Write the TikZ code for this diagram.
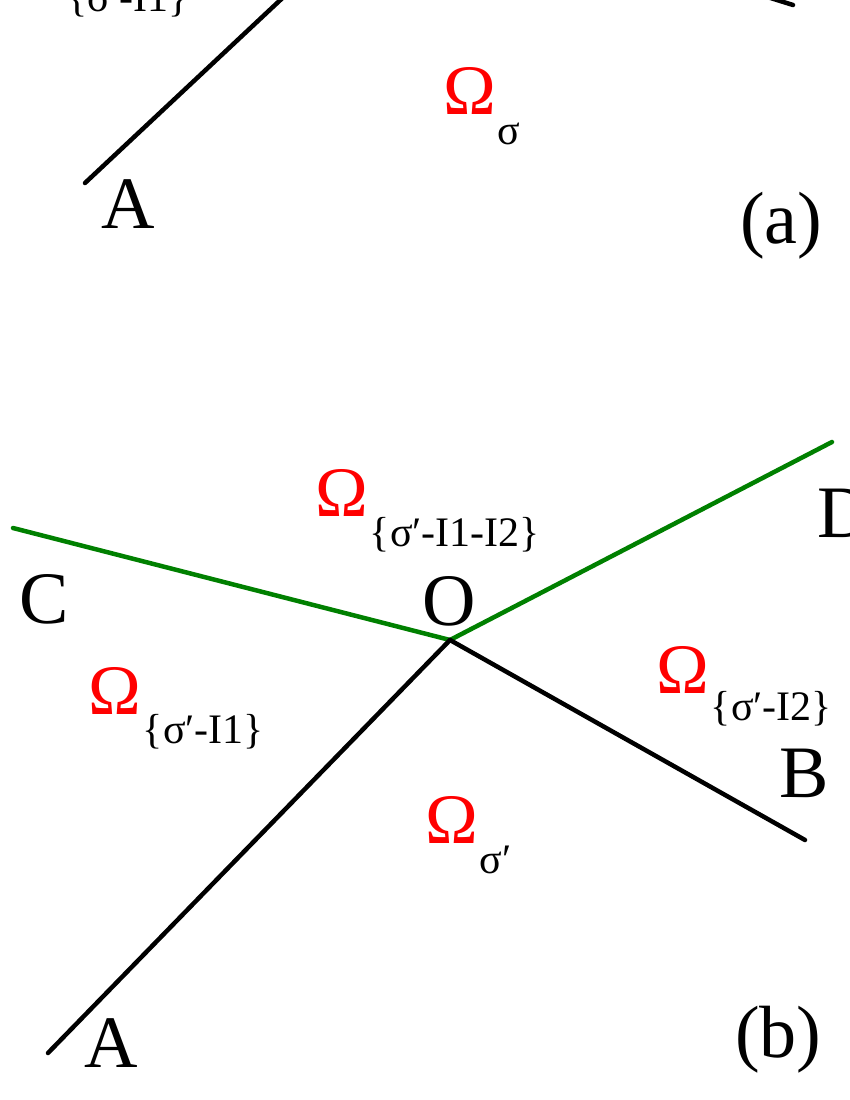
\documentclass[tikz,border=0pt]{standalone}
\usepackage{fontspec}
\setmainfont{Liberation Serif}
\definecolor{dgreen}{RGB}{0,128,0}
\newcommand{\omlab}[2]{{\color{red}\fontsize{71}{80}\selectfont Ω}\kern2pt\raisebox{-#2pt}{\fontsize{42}{50}\selectfont #1}}
\begin{document}
\begin{tikzpicture}[x=1pt,y=-1pt,
  seg/.style={line width=4.5pt,line cap=round,draw=black},
  grn/.style={line width=4.5pt,line cap=round,draw=dgreen},
  lbl/.style={inner sep=0pt,anchor=base west,font=\fontsize{74}{80}\selectfont},
  sublbl/.style={inner sep=0pt,anchor=base west,font=\fontsize{42}{50}\selectfont}]
\useasboundingbox (0,0) rectangle (850,1100);
\clip (0,0) rectangle (850,1100);
% ---------- panel (a), partly cut off at the top ----------
\coordinate (Aa) at (85,183);
\coordinate (Ta) at (291,-10);
\coordinate (Ra) at (745,-10);
\coordinate (Rb) at (793,5);
\draw[seg] (Aa) -- (Ta);
\draw[seg] (Ra) -- (Rb);
\node[sublbl] (sa) at (67,12) {\{σ′-I1\}};
\node[lbl] (labA1) at (101,228) {A};
\node[inner sep=0pt,anchor=base west] (oma) at (443,114) {\omlab{σ}{30}};
\node[lbl] (pa) at (740,243) {(a)};
% ---------- panel (b) ----------
\coordinate (O) at (450,640);
\coordinate (A) at (48,1053);
\coordinate (B) at (805,840);
\coordinate (C) at (13,528);
\coordinate (D) at (832,442);
\draw[grn] (O) -- (C);
\draw[grn] (O) -- (D);
\draw[seg] (O) -- (A);
\draw[seg] (O) -- (B);
\node[lbl] (labC) at (19,623) {C};
\node[lbl] (labO) at (422,625) {O};
\node[lbl] (labD) at (817,537) {D};
\node[lbl] (labB) at (779,797) {B};
\node[lbl] (labA) at (84,1067) {A};
\node[lbl] (pb) at (735,1057) {(b)};
\node[inner sep=0pt,anchor=base west] (om12) at (315,516) {\omlab{\{σ′-I1-I2\}}{30}};
\node[inner sep=0pt,anchor=base west] (om1) at (88,714) {\omlab{\{σ′-I1\}}{29}};
\node[inner sep=0pt,anchor=base west] (om2) at (656,693) {\omlab{\{σ′-I2\}}{27}};
\node[inner sep=0pt,anchor=base west] (oms) at (425,843) {\omlab{σ′}{30}};
\end{tikzpicture}
\end{document}
